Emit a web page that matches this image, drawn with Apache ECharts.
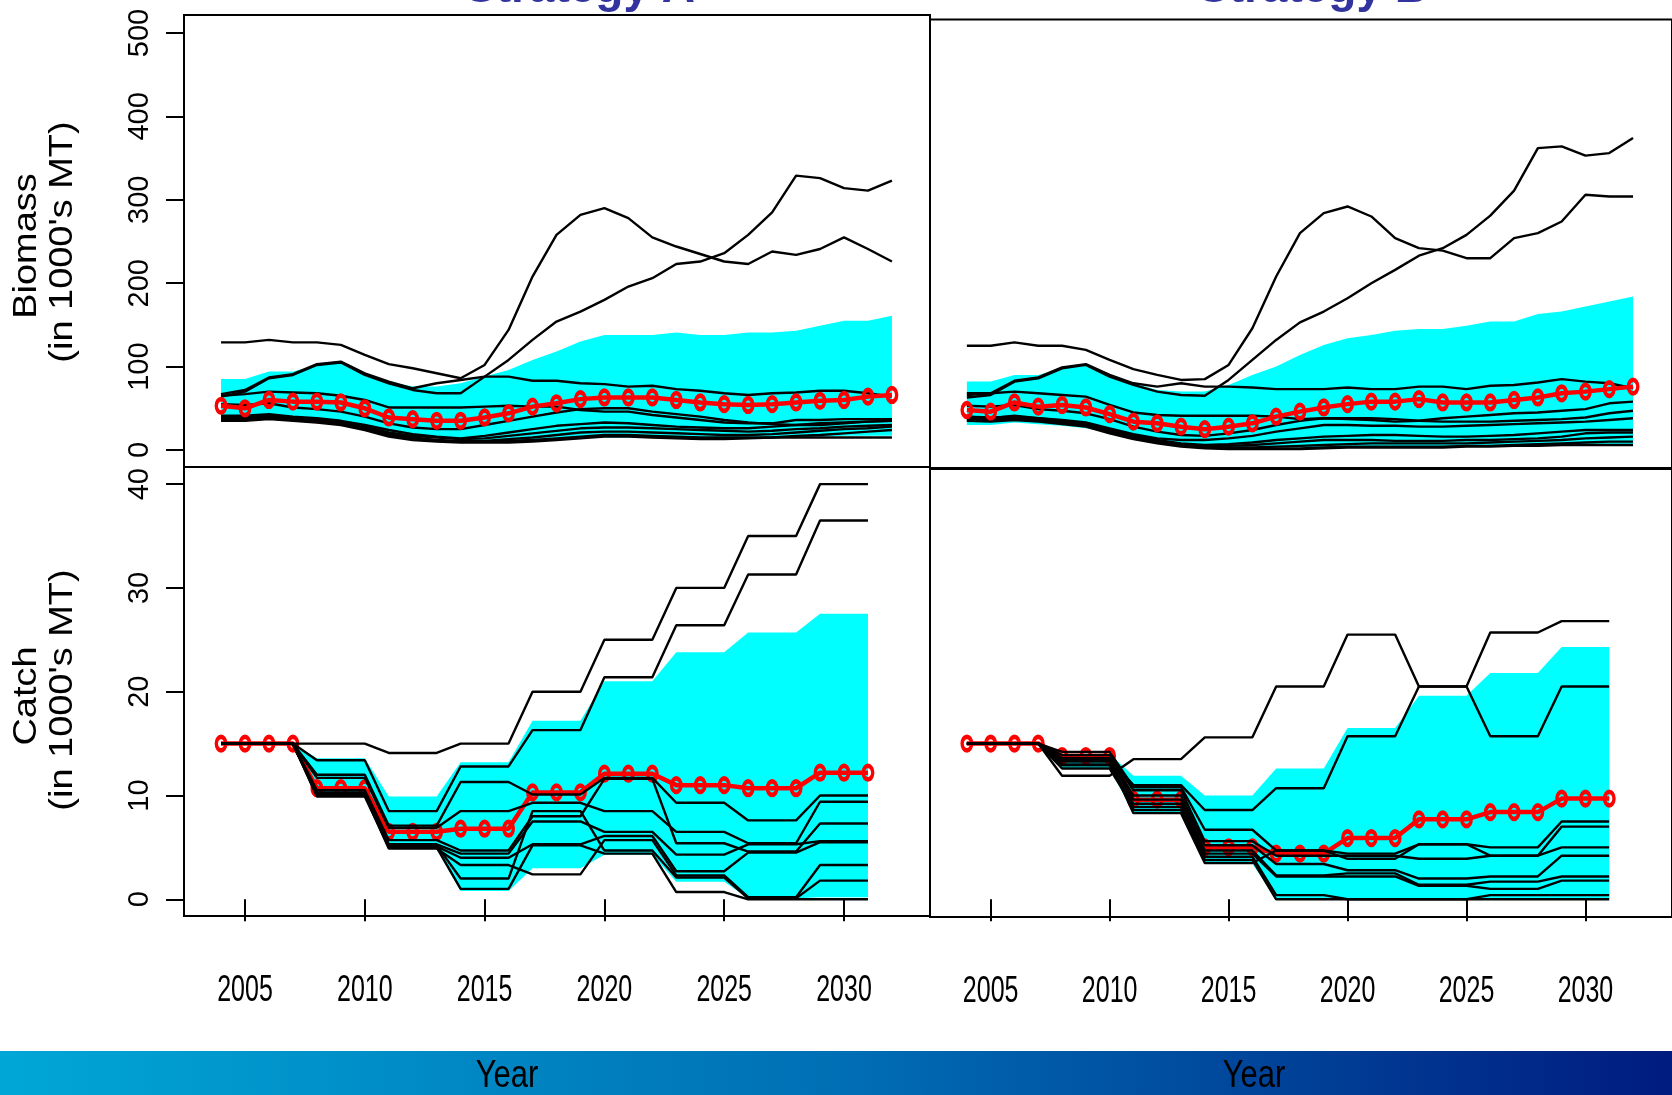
<!DOCTYPE html>
<html>
<head>
<meta charset="utf-8">
<script src="https://cdn.jsdelivr.net/npm/echarts@6/dist/echarts.min.js"></script>
<style>
html, body { margin: 0; padding: 0; background: #ffffff; }
#chart { width: 1672px; height: 1095px; }
</style>
</head>
<body>
<div id="chart"></div>
<script>
// ---- Years ----
const yearsB = [2004,2005,2006,2007,2008,2009,2010,2011,2012,2013,2014,2015,2016,2017,2018,2019,2020,2021,2022,2023,2024,2025,2026,2027,2028,2029,2030,2031,2032];
const yearsC = [2004,2005,2006,2007,2008,2009,2010,2011,2012,2013,2014,2015,2016,2017,2018,2019,2020,2021,2022,2023,2024,2025,2026,2027,2028,2029,2030,2031];

// ---- Tick labels ----
const yearTicks = [2005, 2010, 2015, 2020, 2025, 2030];
const biomassTicks = [0, 100, 200, 300, 400, 500];
const catchTicks = [0, 10, 20, 30, 40];

// ---- Biomass, Strategy A (1000's MT) ----
const bioA_median = [53,50,60,58,58,57,50,39,37,35,35,39,44,52,56,61,63,63,63,60,57,55,54,55,57,59,60,64,66];
const bioA_upper  = [85,85,94,94,102,104,91,82,76,76,80,88,96,108,118,130,138,138,138,141,138,138,141,141,143,149,155,155,161];
const bioA_lower  = [35,35,37,36,34,32,28,22,17,14,12,11,11,12,13,14,15,15,15,14,14,14,14,14,15,16,17,17,17];
const bioA_run1  = [129,129,132,129,129,126,114,103,98,92,86,102,144,208,258,282,290,278,255,244,235,226,223,238,234,241,255,241,226];
const bioA_run2  = [64,70,86,90,102,105,90,80,72,68,68,88,108,132,154,166,180,196,206,223,226,236,258,285,329,326,314,311,323];
const bioA_run3  = [67,72,87,91,103,106,92,82,74,80,84,88,88,83,83,80,79,76,77,73,71,68,66,68,69,71,71,68,64];
const bioA_run4  = [65,67,70,69,68,65,60,51,51,51,51,52,53,52,52,48,46,46,42,39,36,33,32,32,36,36,37,37,37];
const bioA_run5  = [55,54,56,51,49,46,40,32,27,25,25,30,35,40,45,49,50,50,46,43,40,36,33,31,30,30,32,34,35];
const bioA_run6  = [41,41,43,40,38,35,30,24,19,16,14,17,21,25,29,31,33,32,30,28,27,26,26,28,30,32,33,34,35];
const bioA_run7  = [39,39,41,38,36,33,28,21,17,15,13,14,17,20,23,26,27,27,26,25,24,23,22,23,25,26,28,29,30];
const bioA_run8  = [37,37,39,37,35,32,27,19,15,12,11,11,13,15,18,21,22,22,21,20,19,18,18,19,21,23,25,26,28];
const bioA_run9  = [36,36,38,36,34,31,25,18,13,11,10,10,11,12,14,16,18,18,17,16,15,15,15,15,15,15,15,15,15];
const bioA_run10 = [35,35,37,35,33,30,24,16,12,10,9,9,9,10,12,14,16,16,15,14,13,13,14,15,17,18,20,22,24];

// ---- Biomass, Strategy B ----
const bioB_median = [48,46,57,52,54,51,43,34,32,28,25,28,32,40,46,51,55,58,58,61,57,57,57,60,63,68,70,73,76];
const bioB_upper  = [82,82,90,90,98,102,90,80,72,70,70,78,90,100,114,126,134,138,143,145,145,149,154,154,163,166,172,178,184];
const bioB_lower  = [30,30,33,31,29,26,21,15,10,7,5,4,3,3,3,3,4,4,4,4,4,4,4,5,5,6,6,7,7];
const bioB_run1  = [125,125,129,125,125,120,108,97,90,84,85,102,146,208,260,284,292,280,254,242,239,230,230,254,260,274,306,304,304];
const bioB_run2  = [63,66,82,86,98,102,88,78,70,66,65,84,108,132,153,166,182,200,216,233,242,258,281,311,362,364,353,356,374];
const bioB_run3  = [66,68,83,87,99,103,90,80,76,80,76,76,75,73,73,73,75,73,73,76,76,73,77,78,81,85,82,80,74];
const bioB_run4  = [68,68,70,68,66,64,54,45,42,41,41,41,41,40,37,38,37,36,34,35,38,40,42,44,45,47,49,56,58];
const bioB_run5  = [53,52,54,49,47,44,37,28,22,18,17,20,24,30,35,38,38,38,37,35,34,34,34,35,36,37,39,44,47];
const bioB_run6  = [40,38,41,38,35,31,24,17,12,8,6,7,9,12,14,16,17,18,18,17,16,16,17,18,20,22,24,24,24];
const bioB_run7  = [37,36,38,36,33,30,23,16,10,7,5,5,6,8,10,12,12,12,11,11,11,12,12,13,14,16,20,21,21];
const bioB_run8  = [36,35,37,35,32,29,21,14,9,5,4,3,3,4,5,6,7,8,8,8,8,8,9,10,11,12,14,15,16];
const bioB_run9  = [38,37,39,37,34,30,22,15,9,6,3,2,2,2,2,3,4,4,4,4,4,5,5,6,7,8,9,10,10];
const bioB_run10 = [35,34,36,34,31,28,20,13,8,4,2,1,1,1,1,2,3,3,3,3,3,4,4,5,5,6,6,6,6];
const bioB_run11 = [40,39,40,38,36,33,26,19,14,12,12,14,17,22,26,30,30,29,29,28,28,29,30,31,32,33,34,36,38];

// ---- Catch, Strategy A (1000's MT) ----
const catA_median = [15,15,15,15,10.7,10.7,10.7,6.5,6.5,6.5,6.8,6.8,6.8,10.3,10.3,10.3,12.1,12.1,12.1,11.0,11.0,11.0,10.7,10.7,10.7,12.2,12.2,12.2];
const catA_upper  = [15,15,15,15,13.6,13.6,13.6,9.9,9.9,9.9,13.2,13.2,13.2,17.2,17.2,17.2,21.0,21.0,21.0,23.8,23.8,23.8,25.7,25.7,25.7,27.5,27.5,27.5];
const catA_lower  = [15,15,15,15,9.9,9.9,9.9,4.9,4.9,4.9,0.8,0.8,0.8,3.0,3.0,3.0,4.3,4.3,4.3,1.7,1.7,1.7,0.1,0.1,0.1,0.2,0.2,0.2];
const catA_run1  = [15,15,15,15,15,15,15,14.1,14.1,14.1,15,15,15,20,20,20,25,25,25,30,30,30,35,35,35,40,40,40];
const catA_run2  = [15,15,15,15,13.4,13.4,13.4,8.5,8.5,8.5,12.8,12.8,12.8,16.3,16.3,16.3,21.4,21.4,21.4,26.4,26.4,26.4,31.3,31.3,31.3,36.5,36.5,36.5];
const catA_run3  = [15,15,15,15,12.0,12.0,12.0,7.1,7.1,7.1,11.3,11.3,11.3,10.1,10.1,10.1,11.7,11.7,11.7,9.3,9.3,9.3,7.6,7.6,7.6,10.0,10.0,10.0];
const catA_run4  = [15,15,15,15,11.7,11.7,11.7,6.9,6.9,6.9,8.5,8.5,8.5,9.3,9.3,9.3,8.5,8.5,8.5,6.5,6.5,6.5,5.4,5.4,5.4,9.4,9.4,9.4];
const catA_run5  = [15,15,15,15,10.5,10.5,10.5,5.7,5.7,5.7,4.7,4.7,4.7,8.0,8.0,8.0,11.6,11.6,11.6,5.4,5.4,5.4,4.6,4.6,4.6,7.3,7.3,7.3];
const catA_run6  = [15,15,15,15,10.2,10.2,10.2,5.3,5.3,5.3,4.4,4.4,4.4,7.5,7.5,7.5,6.5,6.5,6.5,4.3,4.3,4.3,5.3,5.3,5.3,5.6,5.6,5.6];
const catA_run7  = [15,15,15,15,9.9,9.9,9.9,5.1,5.1,5.1,4.0,4.0,4.0,5.3,5.3,5.3,6.1,6.1,6.1,2.7,2.7,2.7,4.5,4.5,4.5,5.5,5.5,5.5];
const catA_run8  = [15,15,15,15,10.0,10.0,10.0,4.9,4.9,4.9,3.3,3.3,3.3,2.4,2.4,2.4,5.7,5.7,5.7,2.3,2.3,2.3,0.2,0.2,0.2,3.3,3.3,3.3];
const catA_run9  = [15,15,15,15,10.1,10.1,10.1,5.2,5.2,5.2,2.0,2.0,2.0,8.5,8.5,8.5,4.7,4.7,4.7,2.1,2.1,2.1,0.1,0.1,0.1,1.8,1.8,1.8];
const catA_run10 = [15,15,15,15,10.3,10.3,10.3,5.0,5.0,5.0,1.0,1.0,1.0,5.2,5.2,5.2,4.4,4.4,4.4,0.7,0.7,0.7,0,0,0,0,0,0];

// ---- Catch, Strategy B ----
const catB_median = [15,15,15,15,13.8,13.8,13.8,9.6,9.6,9.6,5.0,5.0,5.0,4.4,4.4,4.4,5.9,5.9,5.9,7.7,7.7,7.7,8.4,8.4,8.4,9.7,9.7,9.7];
const catB_upper  = [15,15,15,15,14.0,14.0,14.0,11.9,11.9,11.9,10.0,10.0,10.0,12.6,12.6,12.6,16.5,16.5,16.5,19.6,19.6,19.6,21.8,21.8,21.8,24.3,24.3,24.3];
const catB_lower  = [15,15,15,15,12.6,12.6,12.6,8.3,8.3,8.3,3.4,3.4,3.4,0.1,0.1,0.1,0.1,0.1,0.1,0.1,0.1,0.1,0.1,0.1,0.1,0.1,0.1,0.1];
const catB_run1  = [15,15,15,15,11.9,11.9,11.9,13.5,13.5,13.5,15.6,15.6,15.6,20.5,20.5,20.5,25.5,25.5,25.5,20.5,20.5,20.5,25.7,25.7,25.7,26.8,26.8,26.8];
const catB_run2  = [15,15,15,15,13.5,13.5,13.5,11.0,11.0,11.0,8.6,8.6,8.6,10.7,10.7,10.7,15.7,15.7,15.7,20.5,20.5,20.5,15.7,15.7,15.7,20.5,20.5,20.5];
const catB_run3  = [15,15,15,15,14.2,14.2,14.2,10.8,10.8,10.8,6.7,6.7,6.7,4.7,4.7,4.7,4.4,4.4,4.4,5.3,5.3,5.3,5.0,5.0,5.0,7.5,7.5,7.5];
const catB_run4  = [15,15,15,15,13.9,13.9,13.9,10.5,10.5,10.5,5.6,5.6,5.6,4.2,4.2,4.2,4.2,4.2,4.2,3.9,3.9,3.9,4.2,4.2,4.2,7.0,7.0,7.0];
const catB_run5  = [15,15,15,15,13.6,13.6,13.6,10.0,10.0,10.0,5.2,5.2,5.2,3.4,3.4,3.4,2.8,2.8,2.8,2.0,2.0,2.0,2.2,2.2,2.2,4.2,4.2,4.2];
const catB_run6  = [15,15,15,15,13.3,13.3,13.3,9.6,9.6,9.6,4.7,4.7,4.7,2.3,2.3,2.3,2.5,2.5,2.5,1.4,1.4,1.4,1.7,1.7,1.7,2.2,2.2,2.2];
const catB_run7  = [15,15,15,15,12.9,12.9,12.9,9.2,9.2,9.2,4.4,4.4,4.4,2.2,2.2,2.2,2.2,2.2,2.2,1.3,1.3,1.3,1.0,1.0,1.0,1.8,1.8,1.8];
const catB_run8  = [15,15,15,15,12.6,12.6,12.6,8.9,8.9,8.9,4.1,4.1,4.1,0.4,0.4,0.4,0,0,0,0,0,0,0.4,0.4,0.4,0.4,0.4,0.4];
const catB_run9  = [15,15,15,15,13.0,13.0,13.0,8.6,8.6,8.6,3.8,3.8,3.8,0,0,0,0,0,0,0,0,0,0,0,0,0,0,0];
const catB_run10 = [15,15,15,15,13.3,13.3,13.3,8.3,8.3,8.3,3.5,3.5,3.5,4.7,4.7,4.7,3.9,3.9,3.9,5.3,5.3,5.3,4.2,4.2,4.2,5.0,5.0,5.0];

// ---- Helpers ----
const pairs = (xs, ys) => xs.map((x, i) => [x, ys[i]]);

// 10%-90% envelope drawn as one filled polygon in data coordinates
function bandSeries(idx, xs, lower, upper) {
  return {
    type: 'custom', xAxisIndex: idx, yAxisIndex: idx, silent: true, z: 1, clip: true,
    data: [[xs[0], lower[0]]],
    renderItem: function (params, api) {
      const pts = [];
      for (let i = 0; i < xs.length; i++) pts.push(api.coord([xs[i], upper[i]]));
      for (let i = xs.length - 1; i >= 0; i--) pts.push(api.coord([xs[i], lower[i]]));
      return { type: 'polygon', shape: { points: pts }, style: { fill: '#00ffff', stroke: null } };
    }
  };
}

function runSeries(idx, xs, runs, z) {
  return runs.map(r => ({
    type: 'line', xAxisIndex: idx, yAxisIndex: idx,
    data: pairs(xs, r), symbol: 'none', silent: true,
    lineStyle: { color: '#000000', width: 2.4 }, z: z
  }));
}

// open oval marker (unit ellipse stretched to the symbol box)
const ovalPath = 'path://M1,0C1,0.552,0.552,1,0,1C-0.552,1,-1,0.552,-1,0C-1,-0.552,-0.552,-1,0,-1C0.552,-1,1,-0.552,1,0Z';

function medianSeries(idx, xs, ys, z) {
  return {
    type: 'line', xAxisIndex: idx, yAxisIndex: idx,
    data: pairs(xs, ys), symbol: ovalPath, symbolSize: [9.5, 13.5], symbolKeepAspect: false, showAllSymbol: true,
    itemStyle: { color: 'rgba(0,0,0,0)', borderColor: '#ff0000', borderWidth: 4 },
    lineStyle: { color: '#ff0000', width: 4.5 }, z: z
  };
}

// ---- Panel geometry ----
const grids = [
  { left: 184, top: 15,   width: 746, height: 452 },
  { left: 930, top: 19.5, width: 746, height: 448.5 },
  { left: 184, top: 467,  width: 746, height: 449 },
  { left: 930, top: 469,  width: 746, height: 448 }
].map(g => Object.assign(g, { show: true, borderColor: '#000000', borderWidth: 2, backgroundColor: 'rgba(0,0,0,0)', containLabel: false }));

const xRangeL = { min: 2002.454, max: 2033.589 };
const xRangeR = { min: 2002.450, max: 2033.637 };
const yRanges = [
  { min: -20.38, max: 521.58 },
  { min: -21.58, max: 516.19 },
  { min: -1.609, max: 41.65 },
  { min: -1.705, max: 41.45 }
];

function xAxisDef(idx, range, ticked) {
  return {
    type: 'value', gridIndex: idx, min: range.min, max: range.max,
    axisLine: { show: false }, splitLine: { show: false },
    axisTick: { show: ticked, customValues: yearTicks, length: 22, lineStyle: { color: '#000', width: 2 } },
    axisLabel: { show: false }
  };
}

function yAxisDef(idx, ticks, labelled) {
  return {
    type: 'value', gridIndex: idx, min: yRanges[idx].min, max: yRanges[idx].max,
    axisLine: { show: false }, splitLine: { show: false },
    axisTick: { show: labelled, customValues: ticks, length: 18, lineStyle: { color: '#000', width: 2 } },
    axisLabel: {
      show: labelled, customValues: ticks, rotate: 90, margin: 30,
      fontFamily: '"Liberation Sans", Arial, sans-serif', fontSize: 29, color: '#000'
    }
  };
}

const textFont = '"Liberation Sans", Arial, sans-serif';

function sideTitle(id, text, x, y) {
  return {
    id: id, type: 'text', x: x, y: y, rotation: Math.PI / 2, scaleX: 1.15, scaleY: 1,
    style: { text: text, font: '33px ' + textFont, fill: '#000', textAlign: 'center', textVerticalAlign: 'middle' },
    z: 10
  };
}

const option = {
  backgroundColor: '#ffffff',
  animation: false,
  grid: grids,
  xAxis: [
    xAxisDef(0, xRangeL, false),
    xAxisDef(1, xRangeR, false),
    xAxisDef(2, xRangeL, true),
    xAxisDef(3, xRangeR, true)
  ],
  yAxis: [
    yAxisDef(0, biomassTicks, true),
    yAxisDef(1, biomassTicks, false),
    yAxisDef(2, catchTicks, true),
    yAxisDef(3, catchTicks, false)
  ],
  // biomass panels: median drawn over the runs; catch panels: runs drawn over the median
  series: [].concat(
    [bandSeries(0, yearsB, bioA_lower, bioA_upper)],
    runSeries(0, yearsB, [bioA_run1, bioA_run2, bioA_run3, bioA_run4, bioA_run5, bioA_run6, bioA_run7, bioA_run8, bioA_run9, bioA_run10], 3),
    [medianSeries(0, yearsB, bioA_median, 5)],
    [bandSeries(1, yearsB, bioB_lower, bioB_upper)],
    runSeries(1, yearsB, [bioB_run1, bioB_run2, bioB_run3, bioB_run4, bioB_run5, bioB_run6, bioB_run7, bioB_run8, bioB_run9, bioB_run10, bioB_run11], 3),
    [medianSeries(1, yearsB, bioB_median, 5)],
    [bandSeries(2, yearsC, catA_lower, catA_upper)],
    runSeries(2, yearsC, [catA_run1, catA_run2, catA_run3, catA_run4, catA_run5, catA_run6, catA_run7, catA_run8, catA_run9, catA_run10], 5),
    [medianSeries(2, yearsC, catA_median, 3)],
    [bandSeries(3, yearsC, catB_lower, catB_upper)],
    runSeries(3, yearsC, [catB_run1, catB_run2, catB_run3, catB_run4, catB_run5, catB_run6, catB_run7, catB_run8, catB_run9, catB_run10], 5),
    [medianSeries(3, yearsC, catB_median, 3)]
  ),
  graphic: [
    // footer band
    {
      id: 'footer', type: 'rect', shape: { x: 0, y: 1051, width: 1672, height: 44 }, silent: true, z: 0,
      style: { fill: { type: 'linear', x: 0, y: 0, x2: 1, y2: 0, colorStops: [
        { offset: 0, color: '#00a7d6' }, { offset: 0.5, color: '#006fb5' }, { offset: 1, color: '#001b80' }
      ] } }
    },
    { id: 'yearA', type: 'text', x: 507, y: 1076, scaleY: 1.28, style: { text: 'Year', font: '31px ' + textFont, fill: '#000', textAlign: 'center', textVerticalAlign: 'middle' }, z: 10 },
    { id: 'yearB', type: 'text', x: 1254, y: 1076, scaleY: 1.28, style: { text: 'Year', font: '31px ' + textFont, fill: '#000', textAlign: 'center', textVerticalAlign: 'middle' }, z: 10 },
    // panel headings
    { id: 'headA', type: 'text', x: 580, y: -11, style: { text: 'Strategy A', font: 'bold 46px ' + textFont, fill: '#3333a0', textAlign: 'center', textVerticalAlign: 'middle' }, z: 10 },
    { id: 'headB', type: 'text', x: 1313, y: -11, style: { text: 'Strategy B', font: 'bold 46px ' + textFont, fill: '#3333a0', textAlign: 'center', textVerticalAlign: 'middle' }, z: 10 },
    // y-axis titles
    sideTitle('ttlB1', 'Biomass', 27, 246),
    sideTitle('ttlB2', '(in 1000\'s MT)', 63, 242),
    sideTitle('ttlC1', 'Catch', 27, 696),
    sideTitle('ttlC2', '(in 1000\'s MT)', 63, 690)
  ]
};

const chart = echarts.init(document.getElementById('chart'), null, { renderer: 'canvas' });
chart.setOption(option);

// Year tick labels under the catch panels, placed at the axis positions of each tick
const tickLabelGraphics = [];
[2, 3].forEach(idx => {
  const axisBottom = chart.convertToPixel({ yAxisIndex: idx }, yRanges[idx].min);
  yearTicks.forEach(yr => {
    const px = chart.convertToPixel({ xAxisIndex: idx }, yr);
    tickLabelGraphics.push({
      id: 'tick' + idx + '_' + yr, type: 'text', x: px, y: axisBottom + 75, scaleY: 1.45,
      style: { text: String(yr), font: '25px ' + textFont, fill: '#000', textAlign: 'center', textVerticalAlign: 'middle' },
      z: 10
    });
  });
});
chart.setOption({ graphic: tickLabelGraphics });
</script>
</body>
</html>
